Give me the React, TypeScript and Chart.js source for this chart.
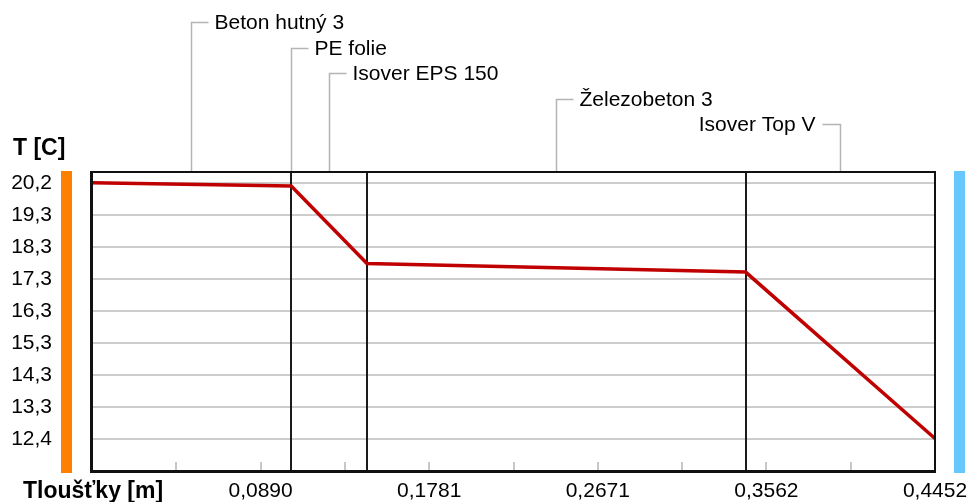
import React, { useEffect, useRef } from "react";
import { Chart, registerables } from "chart.js";

Chart.register(...registerables);

// ---------- data ----------
const layerNames = ["Beton hutný 3", "PE folie", "Isover EPS 150", "Železobeton 3", "Isover Top V"];
const layerThickness = [0.105, 0.0002, 0.04, 0.2, 0.1];
const interfaceTemps = [20.22, 20.12, 20.12, 17.76, 17.5, 12.43];
const yTickValues = [12.4, 13.375, 14.35, 15.325, 16.3, 17.275, 18.25, 19.225, 20.2];
const yTickLabels = ["12,4", "13,3", "14,3", "15,3", "16,3", "17,3", "18,3", "19,3", "20,2"];
const xTickValues = [0.08904, 0.17808, 0.26712, 0.35616, 0.4452];
const xTickLabels = ["0,0890", "0,1781", "0,2671", "0,3562", "0,4452"];
const xMarkValues = [0.04452, 0.08904, 0.13356, 0.17808, 0.2226, 0.26712, 0.31164, 0.35616, 0.40068];
const yAxisTitle = "T [C]";
const xAxisTitle = "Tloušťky [m]";

const boundaries: number[] = layerThickness.reduce(
  (acc: number[], t) => {
    acc.push(acc[acc.length - 1] + t);
    return acc;
  },
  [0]
);
const totalThickness = boundaries[boundaries.length - 1];

const FONT = "'Liberation Sans', Arial, sans-serif";

const decor = {
  id: "decor",
  beforeDatasetsDraw(chart: any) {
    const { ctx, chartArea: a, scales } = chart;
    const x = scales.x;
    ctx.save();
    // small tick marks inside the plot
    ctx.strokeStyle = "#b4b4b4";
    ctx.lineWidth = 1.5;
    xMarkValues.forEach((v) => {
      const px = Math.round(x.getPixelForValue(v));
      ctx.beginPath();
      ctx.moveTo(px, a.bottom);
      ctx.lineTo(px, a.bottom - 11);
      ctx.stroke();
    });
    // layer boundaries
    ctx.strokeStyle = "#1a1a1a";
    ctx.lineWidth = 2;
    boundaries.slice(1, -1).forEach((v) => {
      const px = Math.round(x.getPixelForValue(v));
      ctx.beginPath();
      ctx.moveTo(px, a.top);
      ctx.lineTo(px, a.bottom);
      ctx.stroke();
    });
    ctx.restore();
  },
  afterDatasetsDraw(chart: any) {
    const { ctx, chartArea: a } = chart;
    const L = Math.round(a.left), R = Math.round(a.right), T = Math.round(a.top), B = Math.round(a.bottom);
    ctx.save();
    ctx.fillStyle = "#111111";
    ctx.fillRect(L - 1, T - 1, R - L + 2, 2);
    ctx.fillRect(R - 1, T - 1, 2, B - T + 1);
    ctx.fillRect(L - 2, T - 1, 3, B - T + 1);
    ctx.fillRect(L - 2, B - 3, R - L + 3, 3);
    ctx.restore();
  },
  afterDraw(chart: any) {
    const { ctx, chartArea: a, scales } = chart;
    const x = scales.x;
    ctx.save();
    // side colour bars
    ctx.fillStyle = "#ff8000";
    ctx.fillRect(61, a.top - 1, 11, a.bottom - a.top + 1);
    ctx.fillStyle = "#66c8ff";
    ctx.fillRect(954, a.top - 1, 11, a.bottom - a.top + 1);
    // axis titles
    ctx.fillStyle = "#000";
    ctx.font = `bold 23px ${FONT}`;
    ctx.textAlign = "left";
    ctx.textBaseline = "alphabetic";
    ctx.fillText(yAxisTitle, 13, 155);
    ctx.fillText(xAxisTitle, 23, 498);
    // layer name leaders
    ctx.font = `21px ${FONT}`;
    ctx.textBaseline = "middle";
    layerNames.forEach((name, i) => {
      const mid = boundaries[i] + layerThickness[i] / 2;
      const px = Math.round(x.getPixelForValue(mid)) + 0.5;
      const ly = Math.round(22 + i * 25.5) + 0.5;
      const toLeft = mid > totalThickness * 0.8;
      const hx = toLeft ? px - 18 : px + 17;
      ctx.strokeStyle = "#b4b4b4";
      ctx.lineWidth = 1.5;
      ctx.beginPath();
      ctx.moveTo(px, a.top - 1);
      ctx.lineTo(px, ly);
      ctx.lineTo(hx, ly);
      ctx.stroke();
      ctx.fillStyle = "#000";
      ctx.textAlign = toLeft ? "right" : "left";
      ctx.fillText(name, toLeft ? hx - 7 : hx + 6, ly + 1);
    });
    ctx.restore();
  },
};

export default function App() {
  const ref = useRef<HTMLCanvasElement | null>(null);
  useEffect(() => {
    if (!ref.current) return;
    const chart = new Chart(ref.current, {
      type: "line",
      data: {
        datasets: [
          {
            data: boundaries.map((b, i) => ({ x: b, y: interfaceTemps[i] })),
            borderColor: "#c00000",
            borderWidth: 3.5,
            pointRadius: 0,
            tension: 0,
            fill: false,
          },
        ],
      },
      options: {
        animation: false,
        responsive: true,
        maintainAspectRatio: false,
        devicePixelRatio: 1,
        layout: { padding: { left: 0, top: 172, right: 33, bottom: 0 } },
        plugins: { legend: { display: false }, tooltip: { enabled: false }, title: { display: false } },
        scales: {
          x: {
            type: "linear",
            min: 0,
            max: totalThickness,
            afterBuildTicks: (axis: any) => {
              axis.ticks = xTickValues.map((v) => ({ value: v }));
            },
            afterFit: (axis: any) => {
              axis.height = 29;
            },
            grid: { display: false, drawTicks: true, tickLength: 6, tickColor: "rgba(0,0,0,0)" },
            border: { display: false },
            ticks: {
              autoSkip: false,
              maxRotation: 0,
              padding: 0,
              color: "#000",
              font: { family: FONT, size: 21 },
              callback: (_v: any, i: number) => xTickLabels[i],
            },
          },
          y: {
            type: "linear",
            min: 11.379,
            max: 20.55,
            afterBuildTicks: (axis: any) => {
              axis.ticks = yTickValues.map((v) => ({ value: v }));
            },
            afterFit: (axis: any) => {
              axis.width = 92;
            },
            grid: { color: "#cdcdcd", lineWidth: 2, drawTicks: true, tickLength: 40, tickColor: "rgba(0,0,0,0)" },
            border: { display: false },
            ticks: {
              autoSkip: false,
              padding: 0,
              color: "#000",
              font: { family: FONT, size: 21 },
              callback: (_v: any, i: number) => yTickLabels[i],
            },
          },
        },
      },
      plugins: [decor],
    });
    return () => chart.destroy();
  }, []);
  return (
    <div style={{ position: "absolute", left: 0, top: 0, width: 968, height: 502, background: "#fff" }}>
      <canvas ref={ref} style={{ display: "block" }} />
    </div>
  );
}
